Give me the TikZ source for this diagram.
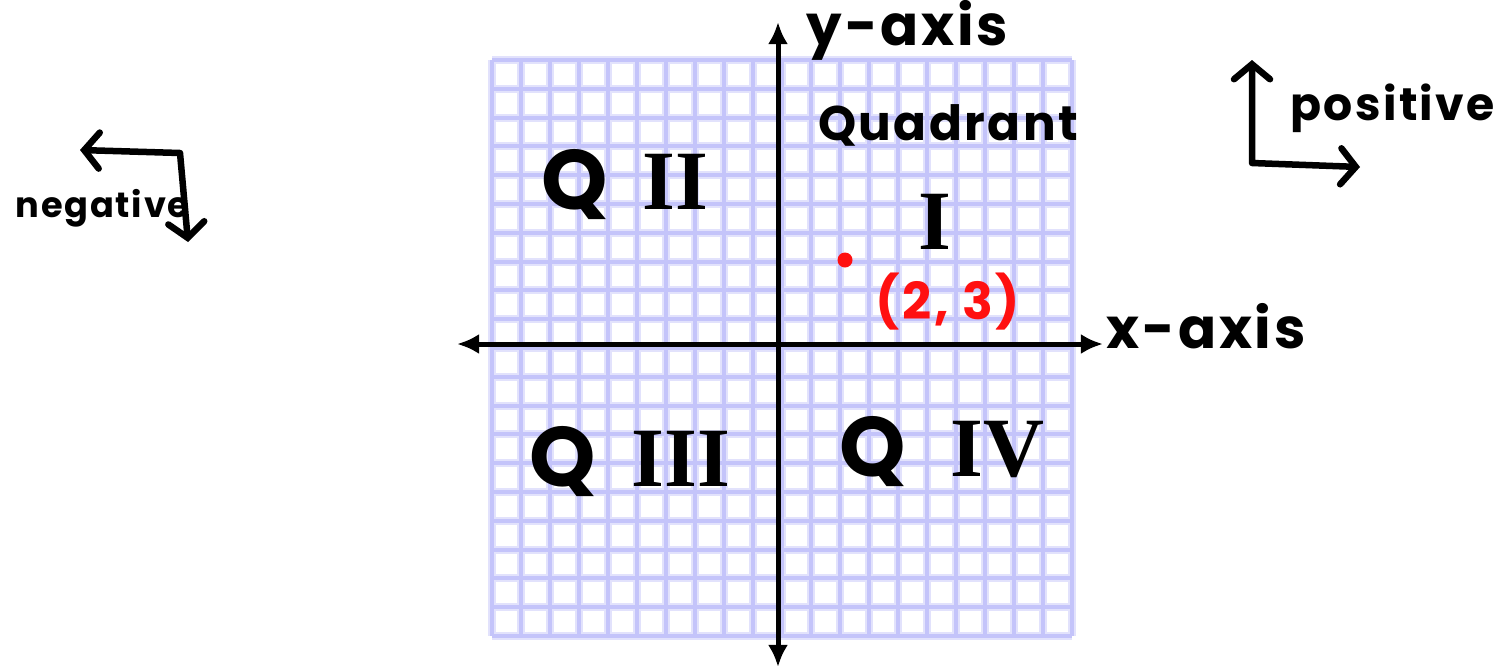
\documentclass[tikz,border=0pt]{standalone}
\usepackage{fontspec}
\setmainfont{Poppins}
\newfontfamily\numfont{Liberation Serif}
\newfontfamily\handfont{Poppins}[LetterSpace=5]
\usetikzlibrary{arrows.meta}
\definecolor{GridLav}{HTML}{C4C4FA}
\definecolor{GridHalo}{HTML}{E2E2FC}
\definecolor{PenRed}{HTML}{FF1010}
\tikzset{
  gridhalo/.style={draw=GridHalo, line width=0.08cm},
  gridline/.style={draw=GridLav, line width=0.04cm},
  axis/.style={line width=0.05cm, {Latex[length=0.22cm,width=0.2cm]}-{Latex[length=0.22cm,width=0.2cm]}},
  pen/.style={line width=0.065cm, line cap=round, line join=round,
    {Straight Barb[length=0.15cm,width=0.36cm,line cap=round]}-{Straight Barb[length=0.15cm,width=0.36cm,line cap=round]}},
  hand/.style={inner sep=0pt, font=\handfont\bfseries\fontsize{15}{18}\selectfont},
  quad/.style={inner sep=0pt, font=\bfseries\fontsize{24}{28}\selectfont}
}

\begin{document}
\begin{tikzpicture}[x=0.01cm,y=-0.01cm]
  \useasboundingbox (0,0) rectangle (1499,669);
  % graph paper
  \foreach \i in {0,...,20}{
    \draw[gridhalo] ({492+29*\i},60) -- ({492+29*\i},636);
    \draw[gridhalo] (492,{60+28.8*\i}) -- (1072,{60+28.8*\i});
  }
  \foreach \i in {0,...,20}{
    \draw[gridline] ({492+29*\i},60) -- ({492+29*\i},636);
    \draw[gridline] (492,{60+28.8*\i}) -- (1072,{60+28.8*\i});
  }
  % axes
  \coordinate (ytop) at (778,22);
  \coordinate (ybot) at (778,667);
  \coordinate (xleft) at (457,344);
  \coordinate (xright) at (1103,344);
  \draw[axis] (ybot) -- (ytop);
  \draw[axis] (xleft) -- (xright);
  \node[hand, font=\handfont\bfseries\fontsize{16}{19}\selectfont, anchor=west] (ylabel) at (806,30) {y-axis};
  \node[hand, font=\handfont\bfseries\fontsize{16}{19}\selectfont, anchor=west] (xlabel) at (1106,326) {x-axis};
  % quadrants
  \node[hand, font=\handfont\bfseries\fontsize{13.8}{17}\selectfont] (quadword) at (948,125) {Quadrant};
  \node[quad] (qone) at (935,222) {\numfont I};
  \node[quad] (qtwo) at (625,185) {Q\hspace{0.35cm}{\numfont II}};
  \node[quad] (qthree) at (630,462) {Q\hspace{0.35cm}{\numfont III}};
  \node[quad] (qfour) at (942,452) {Q\hspace{0.45cm}{\numfont IV}};
  % point
  \node[circle, fill=PenRed, minimum size=0.15cm, inner sep=0pt] (pt) at (845,260) {};
  \node[hand, text=PenRed, font=\handfont\bfseries\fontsize{14.5}{17}\selectfont] (ptlabel) at (948,302) {(2, 3)};
  % direction hints
  \coordinate (poscorner) at (1252,163);
  \coordinate (posup) at (1252,60);
  \coordinate (posright) at (1360,167);
  \draw[pen] (posup) -- (poscorner) -- (posright);
  \node[hand, font=\handfont\bfseries\fontsize{13}{16}\selectfont, anchor=west] (poslabel) at (1290,108) {positive};
  \coordinate (negcorner) at (180,153);
  \coordinate (negleft) at (80,150);
  \coordinate (negdown) at (188,242);
  \draw[pen] (negleft) -- (negcorner) -- (negdown);
  \node[hand, font=\handfont\bfseries\fontsize{10}{12}\selectfont, anchor=west] (neglabel) at (15,208) {negative};
\end{tikzpicture}
\end{document}
